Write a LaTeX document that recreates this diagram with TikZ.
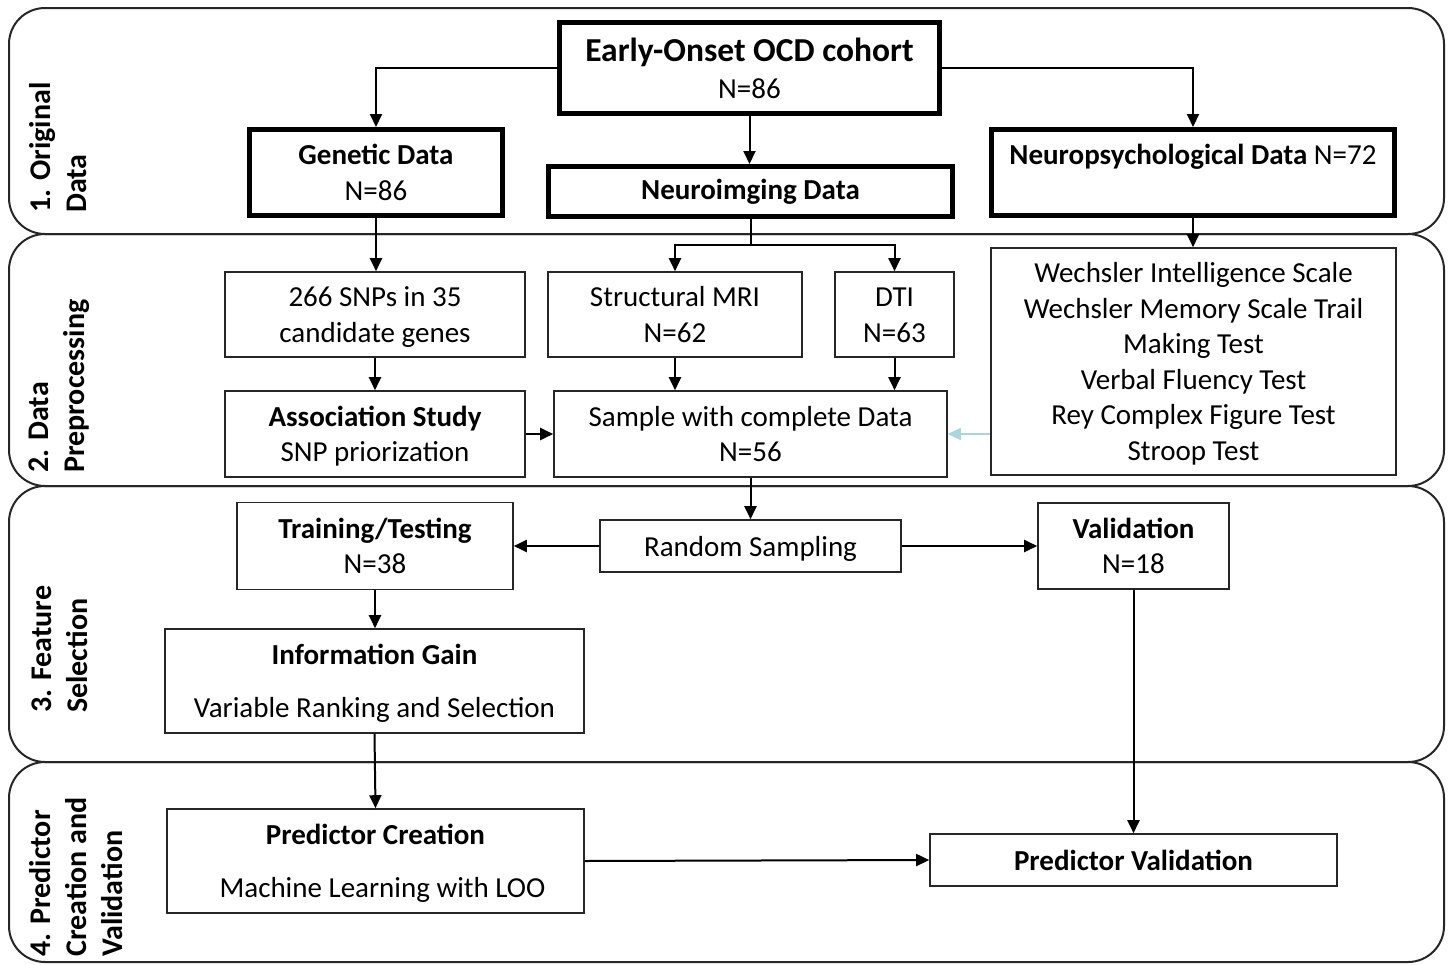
\documentclass[tikz,border=0pt]{standalone}
\usepackage{fontspec}
\setmainfont{Carlito}
\usetikzlibrary{arrows.meta}
\definecolor{lightcyan}{RGB}{168,214,220}
\newcommand\boxtext[1]{\raisebox{-3pt}[\height][\depth]{\begin{tabular}{@{}c@{}}#1\end{tabular}}}
\begin{document}
\begin{tikzpicture}[x=1pt,y=-1pt,
  font=\fontsize{29}{35.5}\selectfont,
  band/.style={draw=black!85, line width=2pt, rounded corners=36pt},
  bandlabel/.style={rotate=90, anchor=south west, inner sep=0pt, align=left, font=\fontsize{30}{36}\selectfont\bfseries},
  thinbox/.style={draw=black!85, line width=1.6pt, inner sep=0pt, align=center},
  thickbox/.style={draw=black, line width=5pt, inner sep=0pt, align=center},
  arr/.style={line width=2pt, -{Triangle[length=13pt,width=12pt]}},
  ln/.style={line width=2pt},
]
\useasboundingbox (0,0) rectangle (1448,964);

% bands
\draw[band] (9,8) rectangle (1444,234);
\draw[band] (9,234) rectangle (1444,486);
\draw[band] (9,486) rectangle (1444,762);
\draw[band] (9,762) rectangle (1444,962);

\node[bandlabel] (lab1) at (87,213) {1. Original\\Data};
\node[bandlabel] (lab2) at (90,473) {2. Data\\Preprocessing};
\node[bandlabel] (lab3) at (88,713) {3. Feature\\Selection};
\node[bandlabel] (lab4) at (123,957) {4. Predictor\\Creation and\\Validation};

% 1. original data
\node[thickbox, minimum width=380, minimum height=91] (cohort) at (749.5,68)
  {{\fontsize{33.5}{37}\selectfont\bfseries Early-Onset OCD cohort}\\[1.5pt]N=86};
\node[thickbox, minimum width=253, minimum height=86] (genetic) at (376,172.5)
  {\textbf{Genetic Data}\\N=86};
\node[thickbox, minimum width=404, minimum height=50] (neuroim) at (750.5,191.5)
  {\textbf{Neuroimging Data}};
\node[thickbox, minimum width=403, minimum height=86] (neuropsych) at (1193,172.5)
  {\textbf{Neuropsychological Data} N=72\\\mbox{}};

% 2. preprocessing
\node[thinbox, minimum width=300, minimum height=85] (snps) at (375,314.5)
  {\boxtext{266 SNPs in 35\\candidate genes}};
\node[thinbox, minimum width=254, minimum height=85] (mri) at (675,314.5)
  {\boxtext{Structural MRI\\N=62}};
\node[thinbox, minimum width=119, minimum height=85] (dti) at (894.5,314.5)
  {\boxtext{DTI\\N=63}};
\node[thinbox, minimum width=405, minimum height=227] (tests) at (1193.5,361.5)
  {\boxtext{Wechsler Intelligence Scale\\Wechsler Memory Scale Trail\\Making Test\\Verbal Fluency Test\\Rey Complex Figure Test\\Stroop Test}};
\node[thinbox, minimum width=300, minimum height=86] (assoc) at (375,434)
  {\boxtext{\textbf{Association Study}\\SNP priorization}};
\node[thinbox, minimum width=393, minimum height=86] (sample) at (750.5,434)
  {\boxtext{Sample with complete Data\\N=56}};

% 3. feature selection
\node[thinbox, minimum width=276, minimum height=87] (training) at (375,546)
  {\boxtext{\textbf{Training/Testing}\\N=38}};
\node[thinbox, minimum width=301, minimum height=52] (random) at (750.5,546)
  {\boxtext{Random Sampling}};
\node[thinbox, minimum width=191, minimum height=86] (validation) at (1133.5,546)
  {\boxtext{\textbf{Validation}\\N=18}};
\node[thinbox, minimum width=419, minimum height=104] (infogain) at (374.5,681)
  {\boxtext{\textbf{Information Gain}\\[18pt]Variable Ranking and Selection}};

% 4. predictor
\node[thinbox, minimum width=417, minimum height=104] (predcreate) at (375.5,861)
  {\boxtext{\textbf{Predictor Creation}\\[18pt]\hspace*{14pt}Machine Learning with LOO}};
\node[thinbox, minimum width=407, minimum height=52] (predval) at (1133.5,860)
  {\boxtext{\textbf{Predictor Validation}}};

% connectors
\draw[arr] (cohort.west) -| (genetic.north);
\draw[arr] (cohort.east) -| (neuropsych.north);
\draw[arr] (cohort.south) -- (cohort.south |- neuroim.north);
\draw[arr] (genetic.south) -- (genetic.south |- snps.north);
\coordinate (split) at (750.5,245);
\draw[ln] (neuroim.south) -- (split);
\draw[arr] (split) -| (mri.north);
\draw[arr] (split) -| (dti.north);
\draw[arr] (neuropsych.south) -- (neuropsych.south |- tests.north);
\draw[arr] (snps.south) -- (assoc.north);
\draw[arr] (mri.south) -- (mri.south |- sample.north);
\draw[arr] (dti.south) -- (dti.south |- sample.north);
\draw[arr] (assoc.east) -- (sample.west);
\draw[arr, draw=lightcyan, fill=lightcyan, line width=1.5pt] (tests.west |- sample.east) -- (sample.east);
\draw[arr] (sample.south) -- (random.north);
\draw[arr] (random.west) -- (random.west -| training.east);
\draw[arr] (random.east) -- (random.east -| validation.west);
\draw[arr] (training.south) -- (training.south |- infogain.north);
\draw[arr] (infogain.south) -- (predcreate.north);
\draw[arr] (validation.south) -- (validation.south |- predval.north);
\draw[arr] (predcreate.east) -- (predval.west);
\end{tikzpicture}
\end{document}
